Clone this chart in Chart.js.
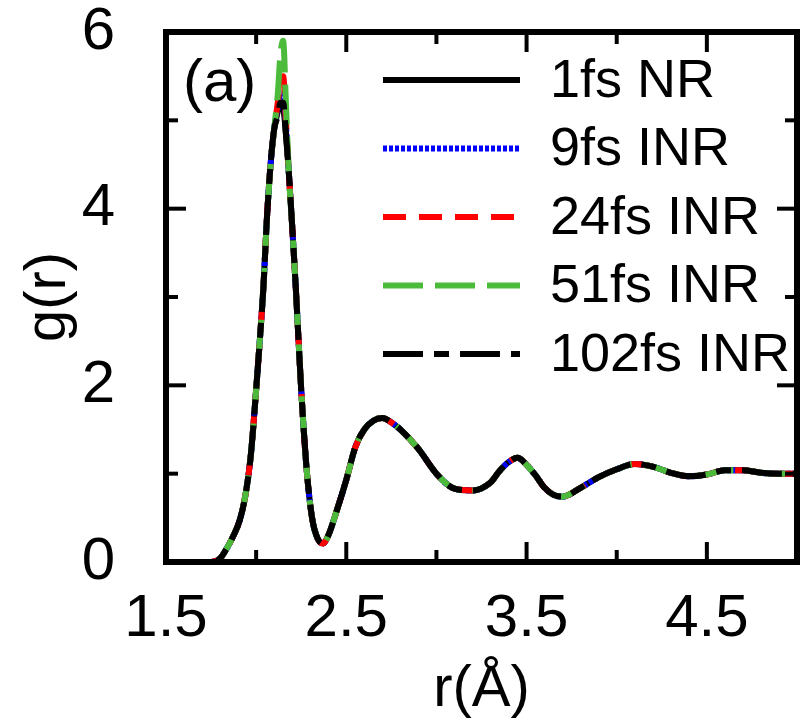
<!DOCTYPE html>
<html>
<head>
<meta charset="utf-8">
<script src="https://cdn.jsdelivr.net/npm/chart.js@4.4.0/dist/chart.umd.min.js"></script>
<style>
  html, body { margin: 0; padding: 0; background: #fff; }
  #wrap { width: 803px; height: 723px; }
</style>
</head>
<body>
<div id="wrap"><canvas id="myChart"></canvas></div>
<script>
// r in angstrom, shared by every run
var rVals = [1.5, 1.7, 1.75, 1.8, 1.83, 1.87, 1.91, 1.94, 1.97, 2.0, 2.02, 2.04, 2.06, 2.08, 2.1,
  2.12, 2.135, 2.15, 2.165, 2.18, 2.2, 2.22, 2.25, 2.28, 2.31, 2.34, 2.37, 2.4, 2.45, 2.5,
  2.55, 2.6, 2.65, 2.7, 2.75, 2.8, 2.9, 3.0, 3.1, 3.2, 3.3, 3.35, 3.4, 3.45, 3.5, 3.55, 3.6,
  3.65, 3.7, 3.8, 3.9, 4.0, 4.1, 4.2, 4.3, 4.4, 4.5, 4.6, 4.7, 4.8, 4.9, 5.0];

var g1fs = [0, 0, 0, 0.04, 0.13, 0.28, 0.48, 0.75, 1.2, 1.95, 2.5, 3.1, 3.9, 4.5, 4.9,
  5.1, 5.2, 5.15, 4.85, 4.45, 3.8, 3.1, 1.95, 1.05, 0.5, 0.27, 0.21, 0.3, 0.6, 0.93,
  1.3, 1.5, 1.6, 1.63, 1.58, 1.5, 1.28, 1.0, 0.83, 0.81, 0.9, 1.03, 1.13, 1.18, 1.1, 0.98, 0.84,
  0.76, 0.74, 0.84, 0.96, 1.05, 1.11, 1.08, 1.01, 0.97, 0.99, 1.04, 1.04, 1.01, 1.0, 1.0];
var g9fs = [0, 0, 0, 0.04, 0.13, 0.28, 0.48, 0.75, 1.2, 1.95, 2.5, 3.1, 3.9, 4.5, 4.9,
  5.15, 5.3, 5.3, 4.95, 4.45, 3.8, 3.1, 1.95, 1.05, 0.5, 0.27, 0.21, 0.3, 0.6, 0.93,
  1.3, 1.5, 1.6, 1.63, 1.58, 1.5, 1.28, 1.0, 0.83, 0.81, 0.9, 1.03, 1.13, 1.18, 1.1, 0.98, 0.84,
  0.76, 0.74, 0.84, 0.96, 1.05, 1.11, 1.08, 1.01, 0.97, 0.99, 1.04, 1.04, 1.01, 1.0, 1.0];
var g24fs = [0, 0, 0, 0.04, 0.13, 0.28, 0.48, 0.75, 1.2, 1.95, 2.5, 3.1, 3.9, 4.5, 4.9,
  5.2, 5.45, 5.5, 5.0, 4.45, 3.8, 3.1, 1.95, 1.05, 0.5, 0.27, 0.21, 0.3, 0.6, 0.93,
  1.3, 1.5, 1.6, 1.63, 1.58, 1.5, 1.28, 1.0, 0.83, 0.81, 0.9, 1.03, 1.13, 1.18, 1.1, 0.98, 0.84,
  0.76, 0.74, 0.84, 0.96, 1.05, 1.11, 1.08, 1.01, 0.97, 0.99, 1.04, 1.04, 1.01, 1.0, 1.0];
var g51fs = [0, 0, 0, 0.04, 0.13, 0.28, 0.48, 0.75, 1.2, 1.95, 2.5, 3.1, 3.9, 4.5, 4.9,
  5.3, 5.75, 5.9, 5.2, 4.45, 3.8, 3.1, 1.95, 1.05, 0.5, 0.27, 0.21, 0.3, 0.6, 0.93,
  1.3, 1.5, 1.6, 1.63, 1.58, 1.5, 1.28, 1.0, 0.83, 0.81, 0.9, 1.03, 1.13, 1.18, 1.1, 0.98, 0.84,
  0.76, 0.74, 0.84, 0.96, 1.05, 1.11, 1.08, 1.01, 0.97, 0.99, 1.04, 1.04, 1.01, 1.0, 1.0];
var g102fs = [0, 0, 0, 0.04, 0.13, 0.28, 0.48, 0.75, 1.2, 1.95, 2.5, 3.1, 3.9, 4.5, 4.9,
  5.05, 5.2, 5.2, 4.85, 4.45, 3.8, 3.1, 1.95, 1.05, 0.5, 0.27, 0.21, 0.3, 0.6, 0.93,
  1.3, 1.5, 1.6, 1.63, 1.58, 1.5, 1.28, 1.0, 0.83, 0.81, 0.9, 1.03, 1.13, 1.18, 1.1, 0.98, 0.84,
  0.76, 0.74, 0.84, 0.96, 1.05, 1.11, 1.08, 1.01, 0.97, 0.99, 1.04, 1.04, 1.01, 1.0, 1.0];

var seriesLabels = ['1fs NR', '9fs INR', '24fs INR', '51fs INR', '102fs INR'];
var seriesValues = [g1fs, g9fs, g24fs, g51fs, g102fs];
var seriesColors = ['#000000', '#0000ff', '#ff0000', '#4cbb3c', '#000000'];
var seriesDash = [[], [4, 2], [23, 13], [40, 12], [40, 11, 15, 11]];

var xTicks = [1.5, 2.5, 3.5, 4.5];
var xMinor = [2.0, 3.0, 4.0];
var yTicks = [0, 2, 4, 6];
var yMinor = [1, 3, 5];

var FONT = "'Liberation Sans', Arial, sans-serif";

document.addEventListener('DOMContentLoaded', function () {

  var datasets = seriesLabels.map(function (label, i) {
    return {
      label: label,
      data: rVals.map(function (r, j) { return {x: r, y: seriesValues[i][j]}; }),
      borderColor: seriesColors[i],
      borderDash: seriesDash[i],
      borderWidth: 6,
      borderCapStyle: 'butt',
      pointRadius: 0,
      fill: false,
      cubicInterpolationMode: 'monotone',
      order: seriesLabels.length - i
    };
  });

  // frame, inward ticks, panel tag and legend
  var framePlugin = {
    id: 'frame',
    afterDatasetsDraw: function (chart) {
      var ctx = chart.ctx;
      var a = chart.chartArea;
      var xs = chart.scales.x;
      var ys = chart.scales.y;

      function seg(x1, y1, x2, y2) {
        ctx.beginPath();
        ctx.moveTo(x1, y1);
        ctx.lineTo(x2, y2);
        ctx.stroke();
      }

      ctx.save();
      ctx.strokeStyle = '#000';
      ctx.lineWidth = 4;
      ctx.setLineDash([]);
      xTicks.concat(xMinor).forEach(function (v) {
        var len = xTicks.indexOf(v) >= 0 ? 20 : 12;
        var p = xs.getPixelForValue(v);
        seg(p, a.bottom, p, a.bottom - len);
        seg(p, a.top, p, a.top + len);
      });
      yTicks.concat(yMinor).forEach(function (v) {
        var len = yTicks.indexOf(v) >= 0 ? 20 : 12;
        var p = ys.getPixelForValue(v);
        seg(a.left, p, a.left + len, p);
        seg(a.right, p, a.right - len, p);
      });
      ctx.lineWidth = 6;
      ctx.strokeRect(a.left, a.top, a.right - a.left, a.bottom - a.top);

      ctx.fillStyle = '#000';
      ctx.font = '60px ' + FONT;
      ctx.textAlign = 'left';
      ctx.textBaseline = 'middle';
      ctx.fillText('(a)', a.left + 17, a.top + 52);

      ctx.font = '54px ' + FONT;
      chart.data.datasets.forEach(function (ds, i) {
        var y = a.top + 48 + i * 68.5;
        ctx.strokeStyle = ds.borderColor;
        ctx.lineWidth = 6;
        ctx.lineCap = 'butt';
        ctx.setLineDash(ds.borderDash);
        seg(383, y, 520, y);
        ctx.setLineDash([]);
        ctx.fillText(ds.label, 550, y + 2);
      });
      ctx.restore();
    }
  };

  var ctx = document.getElementById('myChart');
  var myChart = new Chart(ctx, {
    type: 'line',
    data: { datasets: datasets },
    plugins: [framePlugin],
    options: {
      responsive: true,
      maintainAspectRatio: false,
      animation: false,
      layout: { padding: { left: 0, right: 6, top: 32, bottom: 0 } },
      plugins: {
        legend: { display: false },
        tooltip: { enabled: false }
      },
      scales: {
        x: {
          type: 'linear',
          min: 1.5,
          max: 5.0,
          grid: { display: false },
          border: { display: false },
          afterBuildTicks: function (scale) {
            scale.ticks = xTicks.map(function (v) { return {value: v}; });
          },
          afterFit: function (scale) {
            scale.height = 161;
            scale.paddingLeft = 0;
            scale.paddingRight = 0;
          },
          ticks: {
            autoSkip: false,
            maxRotation: 0,
            padding: 19,
            color: '#000',
            font: { family: FONT, size: 60, lineHeight: 1 },
            callback: function (v) { return Number(v).toFixed(1); }
          },
          title: {
            display: true,
            text: 'r(Å)',
            color: '#000',
            font: { family: FONT, size: 58, lineHeight: 1 },
            padding: { top: 0, bottom: 4 }
          }
        },
        y: {
          min: 0,
          max: 6,
          grid: { display: false },
          border: { display: false },
          afterBuildTicks: function (scale) {
            scale.ticks = yTicks.map(function (v) { return {value: v}; });
          },
          afterFit: function (scale) {
            scale.width = 166;
            scale.paddingTop = 0;
            scale.paddingBottom = 0;
          },
          ticks: {
            padding: 43,
            color: '#000',
            font: { family: FONT, size: 60, lineHeight: 1 },
            callback: function (v) { return String(v); }
          },
          title: {
            display: true,
            text: 'g(r)',
            color: '#000',
            font: { family: FONT, size: 58, lineHeight: 1 },
            padding: { top: 20, bottom: 0 }
          }
        }
      }
    }
  });

});
</script>
</body>
</html>
